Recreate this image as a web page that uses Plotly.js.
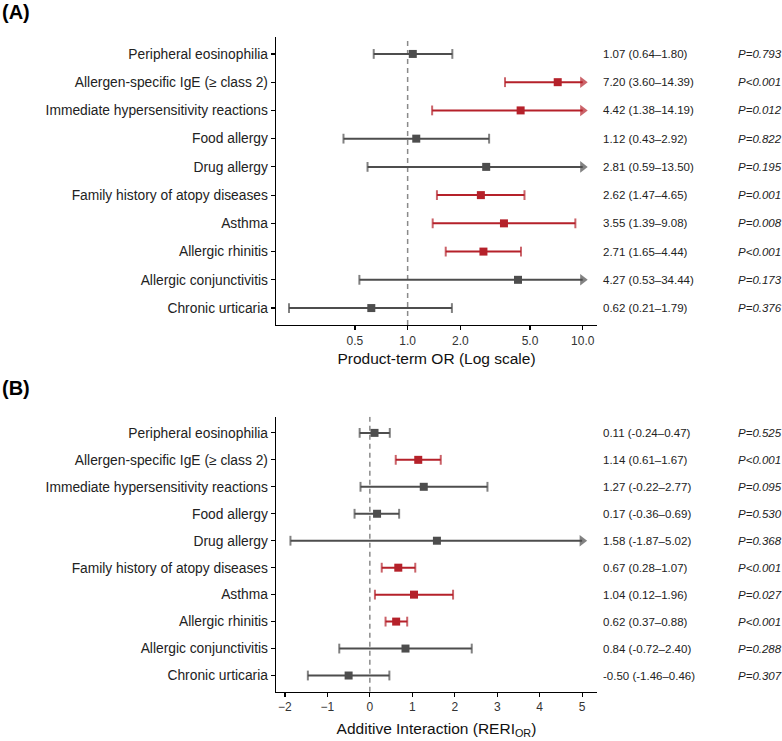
<!DOCTYPE html>
<html>
<head>
<meta charset="utf-8">
<script src="https://cdn.plot.ly/plotly-3.0.1.min.js"></script>
<style>html,body{margin:0;padding:0;background:#fff;}#chart{width:782px;height:741px;}</style>
</head>
<body>
<div id="chart"></div>
<script>
// ---------- DATA ----------
const categories = [
  "Peripheral eosinophilia",
  "Allergen-specific IgE (≥ class 2)",
  "Immediate hypersensitivity reactions",
  "Food allergy",
  "Drug allergy",
  "Family history of atopy diseases",
  "Asthma",
  "Allergic rhinitis",
  "Allergic conjunctivitis",
  "Chronic urticaria"
];

// Panel A: product-term OR
const orEst = [1.07, 7.20, 4.42, 1.12, 2.81, 2.62, 3.55, 2.71, 4.27, 0.62];
const orLow = [0.64, 3.60, 1.38, 0.43, 0.59, 1.47, 1.39, 1.65, 0.53, 0.21];
const orHigh = [1.80, 14.39, 14.19, 2.92, 13.50, 4.65, 9.08, 4.44, 34.44, 1.79];
const orP = ["P=0.793", "P<0.001", "P=0.012", "P=0.822", "P=0.195", "P=0.001", "P=0.008", "P<0.001", "P=0.173", "P=0.376"];

// Panel B: RERI (OR)
const reriEst = [0.11, 1.14, 1.27, 0.17, 1.58, 0.67, 1.04, 0.62, 0.84, -0.50];
const reriLow = [-0.24, 0.61, -0.22, -0.36, -1.87, 0.28, 0.12, 0.37, -0.72, -1.46];
const reriHigh = [0.47, 1.67, 2.77, 0.69, 5.02, 1.07, 1.96, 0.88, 2.40, 0.46];
const reriP = ["P=0.525", "P<0.001", "P=0.095", "P=0.530", "P=0.368", "P<0.001", "P=0.027", "P<0.001", "P=0.288", "P=0.307"];

const orTickVals = [0.5, 1, 2, 5, 10];
const orTickText = ["0.5", "1.0", "2.0", "5.0", "10.0"];
const reriTickVals = [-2, -1, 0, 1, 2, 3, 4, 5];

// ---------- STYLE ----------
const RED = "#B5212A";
const GREY = "#4D4D4D";
const FONT = "Liberation Sans, Arial, sans-serif";
const W = 782, H = 741;

function isSig(p) {
  if (p.indexOf("<") >= 0) return true;
  return parseFloat(p.split("=")[1]) < 0.05;
}
function fmt(v) { return v.toFixed(2); }

const traces = [];
const annotations = [];

function refLine(xa, ya, xval) {
  // null-effect reference line, spanning the full category range
  traces.push({
    type: "scatter", mode: "lines", x: [xval, xval], y: [-0.6, 9.6],
    xaxis: xa, yaxis: ya, showlegend: false, hoverinfo: "skip",
    line: {color: "#8a8a8a", width: 1.5, dash: "5px,4px"}, cliponaxis: true
  });
}

function buildPanel(est, lo, hi, pv, xa, ya, clip, nullVal) {
  const cols = pv.map(p => isSig(p) ? RED : GREY);
  refLine(xa, ya, nullVal);
  categories.forEach((c, i) => {
    const arrow = hi[i] > clip;
    traces.push({
      type: "scatter", mode: "lines+markers",
      x: [lo[i], arrow ? clip : hi[i]], y: [9 - i, 9 - i],
      xaxis: xa, yaxis: ya, showlegend: false, hoverinfo: "skip",
      line: {color: cols[i], width: 2},
      marker: {
        symbol: ["line-ns", arrow ? "triangle-right" : "line-ns"],
        size: [7, arrow ? 10 : 7],
        color: cols[i],
        line: {color: cols[i], width: [2, arrow ? 0 : 2]}
      },
      cliponaxis: false
    });
  });
  traces.push({
    type: "scatter", mode: "markers",
    x: est, y: categories.map((c, i) => 9 - i), xaxis: xa, yaxis: ya, showlegend: false,
    marker: {symbol: "square", size: 8, color: cols, line: {width: 0}},
    cliponaxis: false
  });
  categories.forEach((c, i) => {
    annotations.push({
      xref: "paper", yref: ya, x: 601 / W, y: 9 - i, xanchor: "left", yanchor: "middle",
      text: fmt(est[i]) + " (" + fmt(lo[i]) + "–" + fmt(hi[i]) + ")",
      showarrow: false, font: {family: FONT, size: 11.5, color: "#222"}
    });
    annotations.push({
      xref: "paper", yref: ya, x: 736 / W, y: 9 - i, xanchor: "left", yanchor: "middle",
      text: "<i>" + pv[i] + "</i>",
      showarrow: false, font: {family: FONT, size: 11.5, color: "#222"}
    });
  });
}

buildPanel(orEst, orLow, orHigh, orP, "x", "y", 10, 1);
buildPanel(reriEst, reriLow, reriHigh, reriP, "x2", "y2", 5, 0);

annotations.push({xref: "paper", yref: "paper", x: 0, y: 1 - 12 / H, xanchor: "left", yanchor: "middle",
  text: "<b>(A)</b>", showarrow: false, font: {family: FONT, size: 20, color: "#000"}});
annotations.push({xref: "paper", yref: "paper", x: 0, y: 1 - 388 / H, xanchor: "left", yanchor: "middle",
  text: "<b>(B)</b>", showarrow: false, font: {family: FONT, size: 20, color: "#000"}});

const xDom = [276 / W, 597 / W];
const yTickVals = categories.map((c, i) => 9 - i);
const yAxisCommon = {
  type: "linear", range: [-0.6, 9.6],
  tickmode: "array", tickvals: yTickVals, ticktext: categories,
  showline: true, linecolor: "#000", linewidth: 1.3,
  ticks: "outside", ticklen: 4, tickcolor: "#000", tickwidth: 1.2,
  showgrid: false, zeroline: false, automargin: false, fixedrange: true,
  tickfont: {family: FONT, size: 13.8, color: "#222"}
};
const xAxisCommon = {
  showline: true, linecolor: "#000", linewidth: 1.3,
  ticks: "outside", ticklen: 4, tickcolor: "#000", tickwidth: 1.2,
  showgrid: false, zeroline: false, automargin: false, fixedrange: true,
  tickfont: {family: FONT, size: 12, color: "#333"}
};

const layout = {
  width: W, height: H,
  margin: {l: 0, r: 0, t: 0, b: 0},
  paper_bgcolor: "#fff", plot_bgcolor: "#fff",
  showlegend: false,
  xaxis: Object.assign({}, xAxisCommon, {
    type: "log", domain: xDom, anchor: "y",
    range: [Math.log10(0.177), Math.log10(12.07)],
    tickmode: "array", tickvals: orTickVals, ticktext: orTickText,
    title: {text: "Product-term OR (Log scale)", font: {family: FONT, size: 15.5, color: "#111"}, standoff: 6}
  }),
  yaxis: Object.assign({}, yAxisCommon, {domain: [1 - 325 / H, 1 - 37 / H], anchor: "x"}),
  xaxis2: Object.assign({}, xAxisCommon, {
    type: "linear", domain: xDom, anchor: "y2",
    range: [-2.21, 5.35],
    tickmode: "array", tickvals: reriTickVals,
    title: {text: "Additive Interaction (RERI<sub>OR</sub>)", font: {family: FONT, size: 15.5, color: "#111"}, standoff: 9}
  }),
  yaxis2: Object.assign({}, yAxisCommon, {domain: [1 - 691.7 / H, 1 - 416.7 / H], anchor: "x2"}),
  annotations: annotations
};

Plotly.newPlot("chart", traces, layout, {displayModeBar: false, staticPlot: true});
</script>
</body>
</html>
